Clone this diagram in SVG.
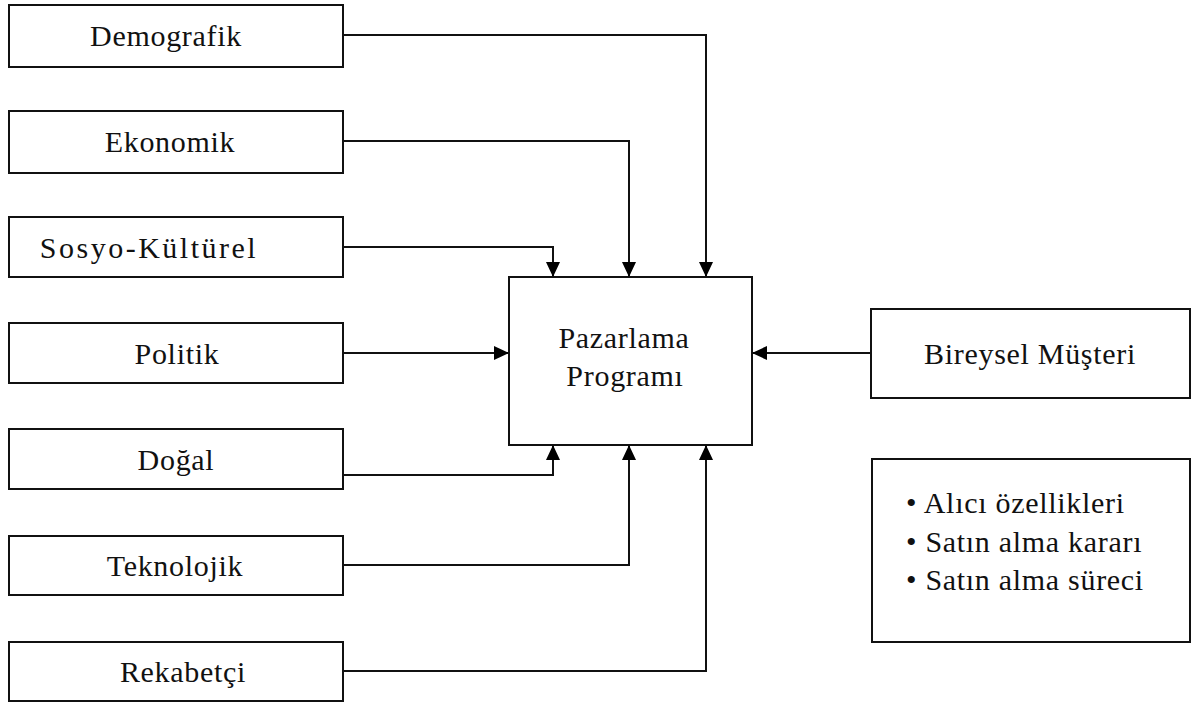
<svg xmlns="http://www.w3.org/2000/svg" width="1201" height="704" viewBox="0 0 1201 704">
<defs>
<style>
.box{fill:#fff;stroke:#111;stroke-width:2}
.t{font-family:"Liberation Serif","Times New Roman",serif;font-size:30px;letter-spacing:0.7px;fill:#111;text-anchor:middle}
.tl{font-family:"Liberation Serif","Times New Roman",serif;font-size:30px;letter-spacing:0.7px;fill:#111}
.c{fill:none;stroke:#111;stroke-width:2}
</style>
<marker id="ah" markerUnits="userSpaceOnUse" markerWidth="15" markerHeight="15" refX="15" refY="7.5" orient="auto">
<path d="M0,0.5 L15,7.5 L0,14.5 z" fill="#000"/>
</marker>
</defs>
<rect width="1201" height="704" fill="#fff"/>
<g id="demografik"><rect class="box" x="9" y="5" width="334" height="62"/><text class="t" x="166" y="46">Demografik</text></g>
<g id="ekonomik"><rect class="box" x="9" y="111" width="334" height="62"/><text class="t" x="170" y="152">Ekonomik</text></g>
<g id="sosyo"><rect class="box" x="9" y="217" width="334" height="60"/><text class="t" x="149" y="258" style="letter-spacing:2.5px">Sosyo-Kültürel</text></g>
<g id="politik"><rect class="box" x="9" y="323" width="334" height="60"/><text class="t" x="177" y="364">Politik</text></g>
<g id="dogal"><rect class="box" x="9" y="429" width="334" height="60"/><text class="t" x="176" y="470">Doğal</text></g>
<g id="teknolojik"><rect class="box" x="9" y="536" width="334" height="59"/><text class="t" x="175" y="576">Teknolojik</text></g>
<g id="rekabetci"><rect class="box" x="9" y="642" width="334" height="59"/><text class="t" x="183" y="682">Rekabetçi</text></g>
<g id="pazarlama"><rect class="box" x="509" y="277" width="243" height="168"/><text class="t" x="624" y="348">Pazarlama</text><text class="t" x="625" y="386">Programı</text></g>
<g id="bireysel"><rect class="box" x="871" y="309" width="319" height="89"/><text class="t" x="1030" y="364">Bireysel Müşteri</text></g>
<g id="ozellikler"><rect class="box" x="872" y="459" width="318" height="183"/>
<text class="tl" x="906" y="513">• Alıcı özellikleri</text>
<text class="tl" x="906" y="552">• Satın alma kararı</text>
<text class="tl" x="906" y="590">• Satın alma süreci</text></g>
<g id="connectors">
<polyline class="c" points="343,35 706,35 706,277" marker-end="url(#ah)"/>
<polyline class="c" points="343,141 629,141 629,277" marker-end="url(#ah)"/>
<polyline class="c" points="343,247 553,247 553,277" marker-end="url(#ah)"/>
<polyline class="c" points="343,353 509,353" marker-end="url(#ah)"/>
<polyline class="c" points="343,475 553,475 553,445" marker-end="url(#ah)"/>
<polyline class="c" points="343,565 629,565 629,445" marker-end="url(#ah)"/>
<polyline class="c" points="343,671 706,671 706,445" marker-end="url(#ah)"/>
<polyline class="c" points="871,353 752,353" marker-end="url(#ah)"/>
</g>
</svg>
